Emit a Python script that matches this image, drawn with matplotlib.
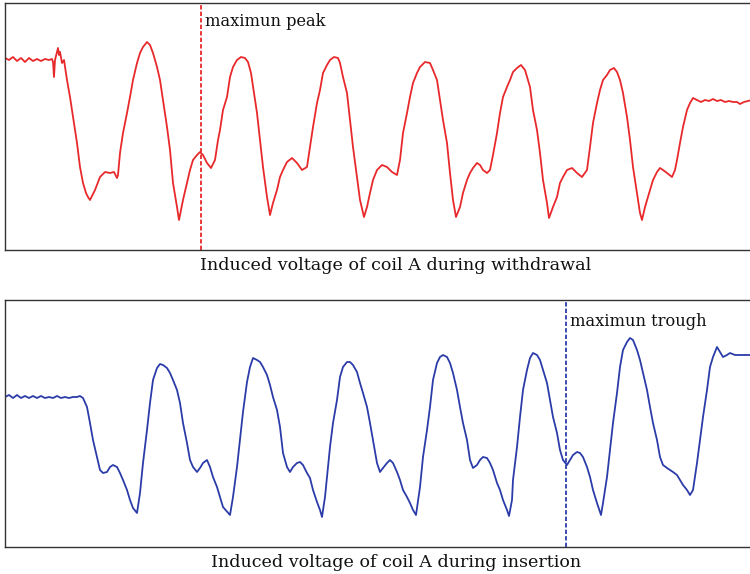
import numpy as np
import matplotlib
matplotlib.use("Agg")
import matplotlib.pyplot as plt

plt.rcParams['font.family'] = ['DejaVu Serif']

# ---- data (time in samples, level in plot units, downward positive) ----
withdraw_t = [5, 9, 13, 17, 21, 25, 29, 33, 37, 41, 45, 49, 52, 53, 54, 55, 57, 58, 59, 60, 62, 64,
              67, 70, 73, 77, 80, 83, 86, 88, 90, 92, 95, 100, 105, 110, 114, 117, 118, 120, 123, 127,
              130, 133, 137, 140, 143, 147, 150, 153, 157, 160, 163, 167, 170, 173, 177, 179, 183, 187,
              190, 193, 197, 200, 203, 207, 211, 215, 218, 220, 223, 227, 230, 233, 237, 241, 245, 248,
              251, 254, 257, 260, 263, 267, 270, 273, 277, 280, 283, 287, 292, 297, 302, 307, 310, 313,
              317, 320, 323, 327, 330, 334, 338, 340, 343, 347, 350, 353, 357, 360, 364, 367, 370, 373,
              377, 382, 387, 392, 397, 400, 403, 407, 410, 413, 417, 420, 425, 430, 433, 437, 440, 443,
              447, 450, 453, 456, 460, 463, 467, 470, 473, 477, 480, 483, 487, 490, 493, 497, 500, 503,
              507, 510, 513, 517, 521, 525, 530, 533, 537, 540, 543, 547, 549, 553, 557, 560, 563, 567,
              572, 577, 582, 587, 590, 593, 597, 600, 603, 607, 610, 614, 617, 620, 623, 627, 630, 633,
              637, 640, 642, 645, 650, 653, 657, 660, 663, 667, 672, 675, 677, 680, 683, 687, 690, 693,
              697, 701, 705, 709, 713, 717, 721, 725, 729, 733, 737, 740, 744, 748, 752, 760, 770, 787]
withdraw_v = [58, 60, 57, 61, 58, 62, 58, 61, 59, 61, 59, 60, 59, 62, 77, 60, 52, 48, 55, 52, 63, 60,
              80, 97, 117, 143, 167, 183, 193, 197, 200, 196, 190, 177, 172, 173, 172, 178, 175, 153, 133, 113,
              97, 80, 63, 53, 47, 42, 45, 53, 67, 80, 100, 127, 150, 183, 207, 220, 200, 183,
              170, 160, 155, 152, 155, 163, 168, 160, 140, 130, 110, 97, 77, 67, 60, 57, 58, 62,
              73, 93, 113, 140, 167, 197, 215, 203, 190, 177, 170, 162, 158, 163, 170, 167, 147, 127,
              103, 90, 73, 65, 60, 57, 58, 63, 77, 93, 120, 147, 177, 200, 217, 207, 193, 180,
              170, 165, 167, 172, 175, 160, 133, 113, 97, 83, 73, 67, 62, 63, 70, 80, 100, 120,
              143, 173, 200, 217, 207, 193, 180, 173, 168, 163, 165, 170, 173, 170, 155, 133, 113, 97,
              87, 80, 72, 68, 65, 70, 87, 110, 130, 153, 180, 203, 218, 207, 197, 183, 177, 170,
              168, 173, 177, 170, 147, 123, 103, 90, 80, 75, 70, 68, 72, 80, 93, 117, 140, 167,
              193, 213, 220, 207, 190, 180, 172, 168, 170, 173, 177, 170, 160, 143, 127, 110, 103, 98,
              100, 102, 100, 101, 99, 101, 100, 102, 101, 102, 102, 104, 102, 101, 100, 101, 100, 101]

insert_t = [5, 9, 13, 17, 21, 25, 29, 33, 37, 41, 45, 49, 53, 57, 61, 65, 69, 73, 77, 80, 83, 87,
            90, 93, 97, 100, 103, 107, 110, 113, 117, 120, 123, 127, 130, 133, 137, 140, 143, 147, 150, 153,
            157, 160, 163, 167, 170, 173, 177, 180, 183, 187, 190, 193, 197, 200, 203, 207, 210, 213,
            217, 220, 223, 230, 233, 237, 240, 243, 247, 250, 253, 257, 260, 263, 267, 270, 273, 277,
            280, 283, 287, 290, 293, 297, 300, 303, 307, 310, 313, 317, 320, 322, 325, 327, 330, 333,
            337, 340, 343, 347, 350, 353, 357, 360, 363, 367, 370, 373, 377, 380, 383, 387, 390, 393,
            397, 400, 403, 407, 410, 413, 416, 420, 423, 427, 430, 433, 437, 440, 443, 447, 450, 453,
            457, 460, 463, 467, 470, 473, 477, 480, 483, 487, 490, 493, 497, 500, 503, 507, 509, 512,
            513, 517, 520, 523, 527, 530, 533, 537, 540, 543, 547, 550, 553, 557, 560, 563, 567, 570,
            573, 577, 580, 583, 587, 590, 593, 597, 601, 603, 607, 610, 613, 617, 620, 623, 627, 630,
            633, 637, 640, 643, 647, 650, 653, 657, 660, 663, 667, 670, 673, 677, 680, 683, 687, 690,
            693, 697, 700, 703, 707, 710, 713, 717, 720, 723, 727, 730, 735, 740, 750, 787]
insert_v = [397, 395, 398, 395, 398, 396, 398, 396, 398, 396, 398, 397, 398, 396, 398, 397, 398, 397, 397, 396, 398, 407,
            423, 440, 457, 470, 473, 472, 467, 465, 467, 473, 480, 490, 500, 508, 513, 493, 463, 430, 403, 380,
            368, 364, 365, 368, 373, 380, 390, 403, 423, 443, 460, 467, 472, 468, 463, 460, 467, 477,
            487, 497, 507, 515, 497, 467, 440, 412, 382, 367, 358, 360, 362, 367, 375, 385, 397, 410,
            427, 453, 467, 472, 467, 463, 462, 465, 473, 478, 490, 502, 510, 517, 497, 477, 447, 423,
            400, 377, 367, 362, 362, 365, 372, 383, 393, 407, 423, 440, 463, 472, 468, 463, 460, 463,
            472, 480, 490, 497, 503, 510, 515, 487, 457, 430, 407, 380, 363, 357, 355, 357, 363, 373,
            390, 407, 423, 440, 460, 468, 465, 460, 457, 458, 463, 470, 483, 490, 500, 510, 516, 500,
            480, 447, 417, 390, 370, 358, 353, 355, 360, 370, 383, 400, 417, 433, 450, 460, 465, 460,
            455, 452, 453, 457, 467, 477, 490, 503, 515, 503, 477, 450, 423, 393, 367, 350, 342, 338,
            340, 350, 360, 373, 390, 407, 423, 440, 457, 465, 468, 470, 472, 475, 480, 485, 490, 495,
            490, 463, 440, 417, 390, 367, 357, 347, 352, 357, 355, 353, 355, 355, 355, 355]

peak_t = 201
trough_t = 566
titles = ["Induced voltage of coil A during withdrawal", "Induced voltage of coil A during insertion"]
labels = ["maximun peak", "maximun trough"]

red = '#e8292b'
blue = '#2b3ca8'

W, H = 750, 574
fig = plt.figure(figsize=(W / 100, H / 100), dpi=100)

def px_axes(x0, y0, x1, y1):
    return fig.add_axes([x0 / W, 1 - y1 / H, (x1 - x0) / W, (y1 - y0) / H])

ax1 = px_axes(5, 3, 787, 250)
ax2 = px_axes(5, 300, 787, 547)

ax1.plot(withdraw_t, withdraw_v, color=red, lw=1.3)
ax1.set_xlim(5, 787)
ax1.set_ylim(250, 3)
ax1.axvline(peak_t, color=red, lw=1.3, ls=(0, (2.4, 1.2)))
ax1.text(peak_t + 4, 22, labels[0], fontsize=11.7, va='center', ha='left', color='#111111')

ax2.plot(insert_t, insert_v, color=blue, lw=1.3)
ax2.set_xlim(5, 787)
ax2.set_ylim(547, 300)
ax2.axvline(trough_t, color=blue, lw=1.3, ls=(0, (2.4, 1.2)))
ax2.text(trough_t + 4, 321, labels[1], fontsize=11.7, va='center', ha='left', color='#111111')

for ax, t in zip((ax1, ax2), titles):
    ax.set_xticks([])
    ax.set_yticks([])
    for s in ax.spines.values():
        s.set_color('#333333')
        s.set_linewidth(1.0)
    ax.set_xlabel(t, fontsize=12.6, color='#111111', labelpad=5)

fig.savefig("out.png", dpi=100)
